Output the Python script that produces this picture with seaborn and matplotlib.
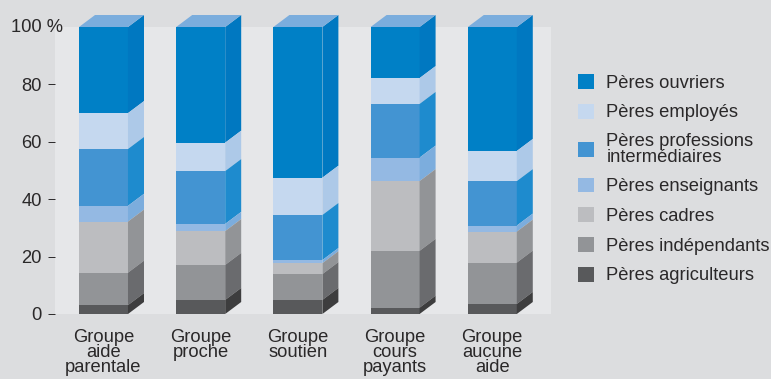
import numpy as np
import pandas as pd
import matplotlib
matplotlib.use("Agg")
import matplotlib.pyplot as plt
from matplotlib.patches import Patch, Polygon
import seaborn as sns

groups = ["Groupe\naide\nparentale", "Groupe\nproche", "Groupe\nsoutien",
          "Groupe\ncours\npayants", "Groupe\naucune\naide"]
series = ["Pères ouvriers", "Pères employés", "Pères professions\nintermédiaires",
          "Pères enseignants", "Pères cadres", "Pères indépendants", "Pères agriculteurs"]

# Segment heights in percent, one list per fathers' occupation
ouvriers = [30.0, 40.3, 52.5, 17.8, 43.2]
employes = [12.5, 9.9, 13.0, 9.0, 10.5]
intermediaires = [19.8, 18.4, 15.7, 18.7, 15.5]
enseignants = [5.5, 2.5, 1.1, 8.2, 2.1]
cadres = [17.8, 11.8, 3.8, 24.3, 10.8]
independants = [11.3, 12.2, 9.0, 19.8, 14.4]
agriculteurs = [3.1, 4.9, 4.9, 2.2, 3.5]

front_colors = ["#0080C6", "#C5D8EF", "#4394D2", "#94B9E3", "#BCBDC0", "#929497", "#58595B"]
side_colors = ["#0078C1", "#ADC9E8", "#1E8BCE", "#7CADDD", "#929497", "#6A6B6E", "#3D3D3E"]
top_color = "#7BADDD"
page_color = "#DCDDDF"
panel_color = "#E6E7E9"
ink = "#2A2829"

segments = np.array([ouvriers, employes, intermediaires, enseignants,
                     cadres, independants, agriculteurs])
tops = np.cumsum(segments[::-1], axis=0)[::-1]
bottoms = tops - segments

sns.set_theme(style="white")
plt.rcParams["font.family"] = ["Liberation Sans", "DejaVu Sans"]

W, H = 771, 379
fig = plt.figure(figsize=(W / 100, H / 100), dpi=100, facecolor=page_color)
ax = fig.add_axes([55 / W, 1 - 314 / H, 496 / W, 287 / H], facecolor=panel_color)

# Tallest cumulative bars first, so each lower segment paints over the previous one
table = pd.DataFrame({
    "group": np.tile(groups, len(series)),
    "series": np.repeat(series, len(groups)),
    "top": tops.ravel(),
})
bar_width = 0.504
sns.barplot(data=table, x="group", y="top", hue="series", hue_order=series,
            palette=dict(zip(series, front_colors)), dodge=False, saturation=1,
            width=bar_width, linewidth=0, legend=False, ax=ax)

# Oblique faces that give the columns their depth
depth_x, depth_y = 16 / 97.2, 12 / 2.87
right_edges = np.arange(len(groups)) + bar_width / 2
for s, color in enumerate(side_colors):
    for g, x in enumerate(right_edges):
        y0, y1 = bottoms[s, g], tops[s, g]
        ax.add_patch(Polygon([(x, y0), (x + depth_x, y0 + depth_y),
                              (x + depth_x, y1 + depth_y), (x, y1)],
                             facecolor=color, edgecolor="none", clip_on=False, zorder=3))
for g, x in enumerate(right_edges):
    y = tops[0, g]
    ax.add_patch(Polygon([(x - bar_width, y), (x, y), (x + depth_x, y + depth_y),
                          (x - bar_width + depth_x, y + depth_y)],
                         facecolor=top_color, edgecolor="none", clip_on=False, zorder=3))
for bar in ax.patches:
    bar.set_clip_on(False)

ax.set_xlim(-0.499, 4.604)
ax.set_ylim(0, 100)
ax.set_xlabel("")
ax.set_ylabel("")
sns.despine(ax=ax, left=True, bottom=True)

ax.set_yticks([0, 20, 40, 60, 80])
ax.tick_params(axis="y", left=True, length=5, width=0.7, color=ink, labelcolor=ink,
               labelsize=13.2, pad=4.5)
ax.tick_params(axis="x", bottom=False, labelcolor=ink, labelsize=13.2, pad=4.5)
for label in ax.get_xticklabels():
    label.set_linespacing(0.87)
ax.annotate("100 %", xy=(0, 100), xycoords=("axes fraction", "data"), xytext=(5.5, 0),
            textcoords="offset points", ha="right", va="center", color=ink, fontsize=13.2)

handles = [Patch(facecolor=c, edgecolor="none", label=s) for c, s in zip(front_colors, series)]
legend = fig.legend(handles=handles, loc="upper left", bbox_to_anchor=(578 / W, 1 - 74 / H),
                    bbox_transform=fig.transFigure, frameon=False, fontsize=13.2,
                    handlelength=0.87, handleheight=0.87, handletextpad=0.68,
                    labelspacing=0.65, borderpad=0, borderaxespad=0, labelcolor=ink)
for text in legend.get_texts():
    text.set_linespacing(0.87)

fig.savefig("out.png", dpi=100, facecolor=page_color)
